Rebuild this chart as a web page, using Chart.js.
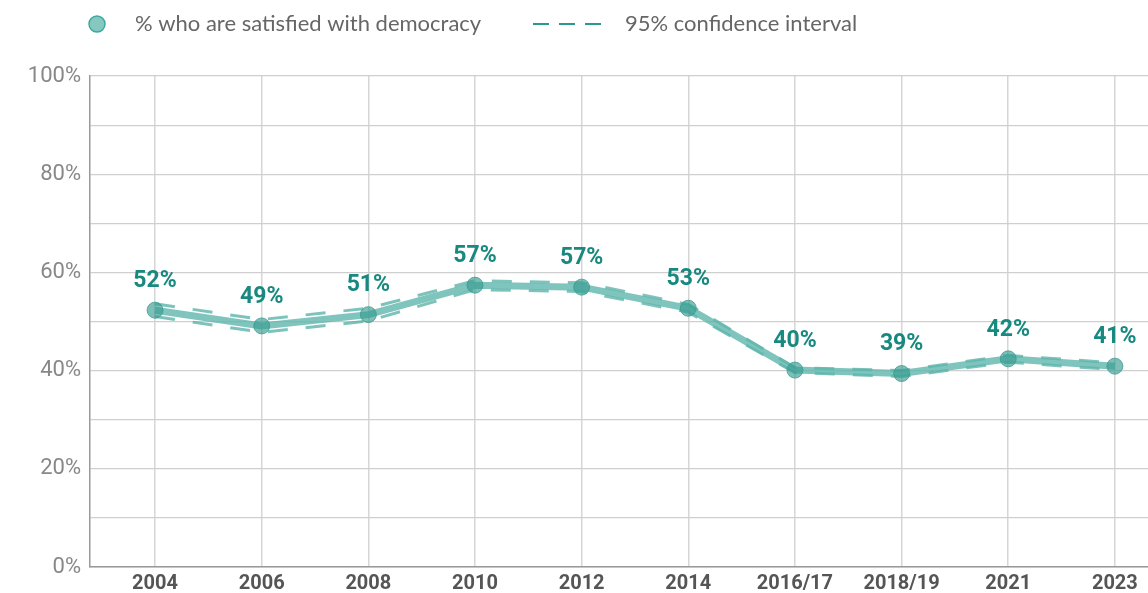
<!DOCTYPE html>
<html>
<head>
<meta charset="utf-8">
<script src="https://cdn.jsdelivr.net/npm/chart.js@4/dist/chart.umd.min.js"></script>
<style>
  html, body { margin: 0; padding: 0; background: #fff; overflow: hidden; }
  #wrap { width: 1148px; height: 593px; overflow: hidden; }
</style>
</head>
<body>
<div id="wrap"><canvas id="satChart" width="1158" height="593"></canvas></div>
<script>
// data
const years = ['2004', '2006', '2008', '2010', '2012', '2014', '2016/17', '2018/19', '2021', '2023'];
const satisfied = [52.3, 49.1, 51.4, 57.4, 57.0, 52.7, 40.1, 39.4, 42.4, 40.9];
const ciUpper = [53.6, 50.4, 52.7, 58.3, 57.9, 53.5, 40.6, 40.0, 43.1, 41.6];
const ciLower = [51.0, 47.8, 50.1, 56.5, 56.1, 51.9, 39.6, 38.8, 41.7, 40.2];
const yTicks = [0, 20, 40, 60, 80, 100];

function pts(arr) {
    return arr.map((v, i) => ({ x: i, y: v }));
}

// value labels above each point
const valueLabels = {
    id: 'valueLabels',
    afterDatasetsDraw(chart) {
        const ctx = chart.ctx;
        const meta = chart.getDatasetMeta(0);
        ctx.save();
        ctx.font = 'bold 23px Roboto';
        ctx.fillStyle = '#17897f';
        ctx.textAlign = 'center';
        ctx.textBaseline = 'middle';
        meta.data.forEach((pt, i) => {
            ctx.fillText(Math.round(satisfied[i]) + '%', pt.x, pt.y - 29);
        });
        ctx.restore();
    }
};

// legend drawn at the top
const topLegend = {
    id: 'topLegend',
    afterDraw(chart) {
        const ctx = chart.ctx;
        ctx.save();
        ctx.beginPath();
        ctx.arc(97, 24, 8, 0, Math.PI * 2);
        ctx.fillStyle = 'rgba(110, 190, 180, 0.85)';
        ctx.fill();
        ctx.lineWidth = 1.5;
        ctx.strokeStyle = '#3fa99f';
        ctx.stroke();

        ctx.beginPath();
        ctx.setLineDash([16, 10]);
        ctx.lineWidth = 2;
        ctx.strokeStyle = '#2a9a90';
        ctx.moveTo(533, 24);
        ctx.lineTo(605, 24);
        ctx.stroke();
        ctx.setLineDash([]);

        ctx.font = '22px Lato';
        ctx.fillStyle = '#666';
        ctx.textBaseline = 'middle';
        ctx.fillText('% who are satisfied with democracy', 135, 24);
        ctx.fillText('95% confidence interval', 625, 24);
        ctx.restore();
    }
};

const ciStyle = {
    borderColor: 'rgba(70, 170, 160, 0.7)',
    borderWidth: 3,
    borderDash: [20, 18],
    pointRadius: 0,
    fill: false,
    tension: 0
};

var ctx = document.getElementById('satChart').getContext('2d');
var satChart = new Chart(ctx, {
    type: 'line',
    data: {
        datasets: [{
            label: '% who are satisfied with democracy',
            data: pts(satisfied),
            borderColor: 'rgba(95, 182, 172, 0.8)',
            borderWidth: 7,
            pointRadius: 8,
            pointBackgroundColor: 'rgba(55, 155, 145, 0.65)',
            pointBorderColor: 'rgba(55, 155, 145, 0.75)',
            pointBorderWidth: 1,
            tension: 0,
            order: 0
        }, Object.assign({ label: 'upper', data: pts(ciUpper), order: 1 }, ciStyle),
           Object.assign({ label: 'lower', data: pts(ciLower), order: 1 }, ciStyle)]
    },
    options: {
        responsive: false,
        animation: false,
        layout: { padding: { top: 76, right: 0, left: 0, bottom: 0 } },
        plugins: {
            legend: { display: false },
            tooltip: { enabled: false }
        },
        scales: {
            x: {
                type: 'linear',
                min: -0.61,
                max: 9.32,
                afterBuildTicks: (scale) => {
                    scale.ticks = years.map((_, i) => ({ value: i }));
                },
                afterFit: (scale) => { scale.height = 26; },
                grid: { color: '#d6d6d6', lineWidth: 1.5, drawTicks: false },
                border: { color: '#999', width: 1.5 },
                ticks: {
                    padding: 5,
                    autoSkip: false,
                    maxRotation: 0,
                    color: '#555',
                    font: { family: 'Roboto', weight: 'bold', size: 20 },
                    callback: (v) => years[v]
                }
            },
            y: {
                min: 0,
                max: 100,
                afterFit: (scale) => { scale.width = 90; },
                grid: { color: '#cfcfcf', lineWidth: 1.2, drawTicks: false },
                border: { color: '#999', width: 1.5 },
                ticks: {
                    stepSize: 10,
                    padding: 9,
                    color: '#888',
                    font: { family: 'Roboto', size: 22 },
                    callback: (v) => yTicks.includes(v) ? v + '%' : ''
                }
            }
        }
    },
    plugins: [valueLabels, topLegend]
});
</script>
</body>
</html>
